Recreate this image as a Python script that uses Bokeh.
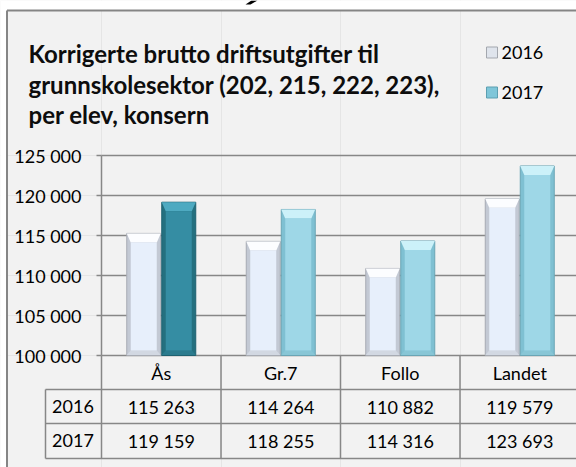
from bokeh.plotting import figure
from bokeh.models import (Range1d, LinearAxis, SingleIntervalTicker, Grid,
                          CustomJSTickFormatter, ColumnDataSource)
from bokeh.core.properties import value
from bokeh.embed import file_html
from bokeh.resources import INLINE

# ---------------- data ----------------
categories = ["Ås", "Gr.7", "Follo", "Landet"]
years = ["2016", "2017"]
values_2016 = [115263, 114264, 110882, 119579]
values_2017 = [119159, 118255, 114316, 123693]
title_lines = ["Korrigerte brutto driftsutgifter til",
               "grunnskolesektor (202, 215, 222, 223),",
               "per elev, konsern"]
y_tick_start, y_tick_end, y_tick_step = 100000, 125000, 5000
highlight = "Ås"

# ---------------- layout (page pixels) ----------------
W, H = 576, 467
PAGE0 = 0
CAT_PX = 119.5          # width of one category
AXIS_PX = 101           # page x of the value axis
BASE_PX = 355           # page y of the 100 000 line
PX_PER_VAL = 8 / 1000   # pixels per unit value


def X(px):
    return (px - AXIS_PX) / CAT_PX


def Y(py):
    return y_tick_start + (BASE_PX - py) / PX_PER_VAL


DX = 1 / CAT_PX          # one pixel in x data units
DY = 1 / PX_PER_VAL      # one pixel in y data units
FONT = "Lato"
GRID_C = "#878787"
FRAME_C = "#858585"

p = figure(width=W, height=H,
           x_range=Range1d(X(PAGE0), X(PAGE0 + W)),
           y_range=Range1d(Y(PAGE0 + H), Y(PAGE0)),
           output_backend="svg", toolbar_location=None,
           x_axis_location=None, y_axis_location=None,
           min_border=0, background_fill_color="#f2f2f2",
           border_fill_color="#f2f2f2", outline_line_color=None)

x_start, x_end = X(PAGE0), X(PAGE0 + W)
y_bottom, y_top = Y(PAGE0 + H), Y(PAGE0)

# ---------------- white surroundings & chart frame ----------------
p.quad(left=[x_start, x_start], right=[x_end, X(6.5)],
       bottom=[Y(10), y_bottom], top=[y_top, y_top],
       fill_color="#ffffff", line_color=None)
# fragment of a heading above the chart
p.patch(x=[X(245), X(250), X(257), X(251)], y=[Y(4), Y(4), Y(0), Y(0)],
        fill_color="#000000", line_color=None)

# ---------------- axis & grid ----------------
ticker = SingleIntervalTicker(interval=y_tick_step, num_minor_ticks=0)
fmt = CustomJSTickFormatter(code="""
return Math.round(tick).toString().replace(/\\B(?=(\\d{3})+(?!\\d))/g, ' ');
""")
yaxis = LinearAxis(fixed_location=0, bounds=(y_tick_start, y_tick_end),
                   ticker=ticker, formatter=fmt,
                   axis_line_color=GRID_C, axis_line_width=1.5,
                   major_tick_line_color=GRID_C, major_tick_line_width=1.5,
                   major_tick_in=0, major_tick_out=5,
                   minor_tick_line_color=None,
                   major_label_text_font=FONT,
                   major_label_text_font_size="18px",
                   major_label_text_color="#000000",
                   major_label_standoff=15)
p.add_layout(yaxis, "left")
grid = Grid(dimension=1, ticker=ticker, bounds=(y_tick_start, y_tick_end),
            cross_bounds=(0, x_end),
            grid_line_color=GRID_C, grid_line_width=1.5)
p.add_layout(grid, "center")

# ---------------- bars ----------------
BAR_W = 34 * DX
OFF = 17.5 * DX
styles = {
    "2016": dict(side="#c3c9d4", face="#e7effb", top="#fcfdff", bot="#d2d8e2", line="#a7abb3"),
    "light": dict(side="#7fc0d2", face="#9ed7e7", top="#ccf1f9", bot="#88c6d6", line="#6aa5b5"),
    "dark": dict(side="#24707f", face="#358da3", top="#4eaac1", bot="#2b7b8e", line="#1e6170"),
}


def draw_bars(vals, offset, style_keys):
    xs = [i + 0.5 + offset for i in range(len(vals))]
    st = [styles[k] for k in style_keys]
    left = [x - BAR_W / 2 for x in xs]
    right = [x + BAR_W / 2 for x in xs]
    src = ColumnDataSource(dict(
        x=xs, top=vals, bottom=[y_tick_start] * len(vals), left=left, right=right,
        side=[s["side"] for s in st], face=[s["face"] for s in st],
        line=[s["line"] for s in st],
        il=[l + 4 * DX for l in left], ir=[r - 4 * DX for r in right],
        it=[v - 9 * DY for v in vals], ib=[y_tick_start + 5 * DY] * len(vals),
    ))
    # outer body
    p.quad(left="left", right="right", bottom="bottom", top="top", source=src,
           fill_color="side", line_color="line", line_width=1)
    # top bevel
    txs = [[l, r, r - 4 * DX, l + 4 * DX] for l, r in zip(left, right)]
    tys = [[v, v, v - 9 * DY, v - 9 * DY] for v in vals]
    p.patches(xs=txs, ys=tys, fill_color=[s["top"] for s in st], line_color=None)
    # bottom bevel
    bxs = [[l, r, r - 4 * DX, l + 4 * DX] for l, r in zip(left, right)]
    bys = [[y_tick_start + 0.5 * DY] * 2 + [y_tick_start + 5 * DY] * 2 for _ in vals]
    p.patches(xs=bxs, ys=bys, fill_color=[s["bot"] for s in st], line_color=None)
    # face
    p.quad(left="il", right="ir", bottom="ib", top="it", source=src,
           fill_color="face", line_color=None)


draw_bars(values_2016, -OFF, ["2016"] * len(categories))
draw_bars(values_2017, OFF, ["dark" if c == highlight else "light" for c in categories])

# ---------------- data table ----------------
TBL_ROW1, TBL_ROW2, TBL_BOT = 389, 423, 458
YEAR_L = 45
n = len(categories) + 1
p.segment(x0=list(range(n)), x1=list(range(n)),
          y0=[y_tick_start] * n, y1=[Y(TBL_BOT)] * n,
          line_color=GRID_C, line_width=1.5)
p.segment(x0=[X(YEAR_L)], x1=[X(YEAR_L)], y0=[Y(TBL_ROW1)], y1=[Y(TBL_BOT)],
          line_color=GRID_C, line_width=1.5)
p.segment(x0=[X(YEAR_L)] * 3, x1=[x_end] * 3,
          y0=[Y(TBL_ROW1), Y(TBL_ROW2), Y(TBL_BOT)],
          y1=[Y(TBL_ROW1), Y(TBL_ROW2), Y(TBL_BOT)],
          line_color=GRID_C, line_width=1.5)


def fmt_num(v):
    return f"{v:,}".replace(",", " ")


txt = dict(text_font=value(FONT), text_font_size="18px", text_color="#000000",
           text_baseline="middle", text_align="center")
centers = [i + 0.5 for i in range(len(categories))]
p.text(x=centers, y=[Y(372)] * len(categories), text=categories, **txt)
p.text(x=[X(72.5)] * 2, y=[Y(406), Y(440)], text=years, **txt)
p.text(x=centers, y=[Y(406)] * len(categories),
       text=[fmt_num(v) for v in values_2016], **txt)
p.text(x=centers, y=[Y(440)] * len(categories),
       text=[fmt_num(v) for v in values_2017], **txt)

# ---------------- title ----------------
p.text(x=[X(28)] * 3, y=[Y(53), Y(84), Y(114)], text=title_lines,
       text_font=value(FONT), text_font_size="24px", text_font_style="bold",
       text_color="#0d0d0d", text_baseline="alphabetic", text_align="left")

# ---------------- legend ----------------
leg_y = [52, 92]
leg_fill = ["#dfe4ec", "#7fc6d9"]
leg_line = ["#a3a7ae", "#5c9fb1"]
p.quad(left=[X(486)] * 2, right=[X(497)] * 2,
       top=[Y(y - 5.5) for y in leg_y], bottom=[Y(y + 5.5) for y in leg_y],
       fill_color=leg_fill, line_color=leg_line, line_width=1)
p.text(x=[X(501)] * 2, y=[Y(y) for y in leg_y], text=years,
       text_font=value(FONT), text_font_size="18px", text_color="#000000",
       text_baseline="middle", text_align="left")

# frame lines
p.segment(x0=[X(6.5), X(6.5)], x1=[X(6.5), x_end], y0=[Y(10), Y(10)], y1=[y_bottom, Y(10)],
          line_color=FRAME_C, line_width=2)

html = file_html(p, INLINE, "chart")
html = html.replace("<head>", "<head><style>html,body{margin:0;padding:0;overflow:hidden;}</style>", 1)
open("out.html", "w", encoding="utf-8").write(html)
